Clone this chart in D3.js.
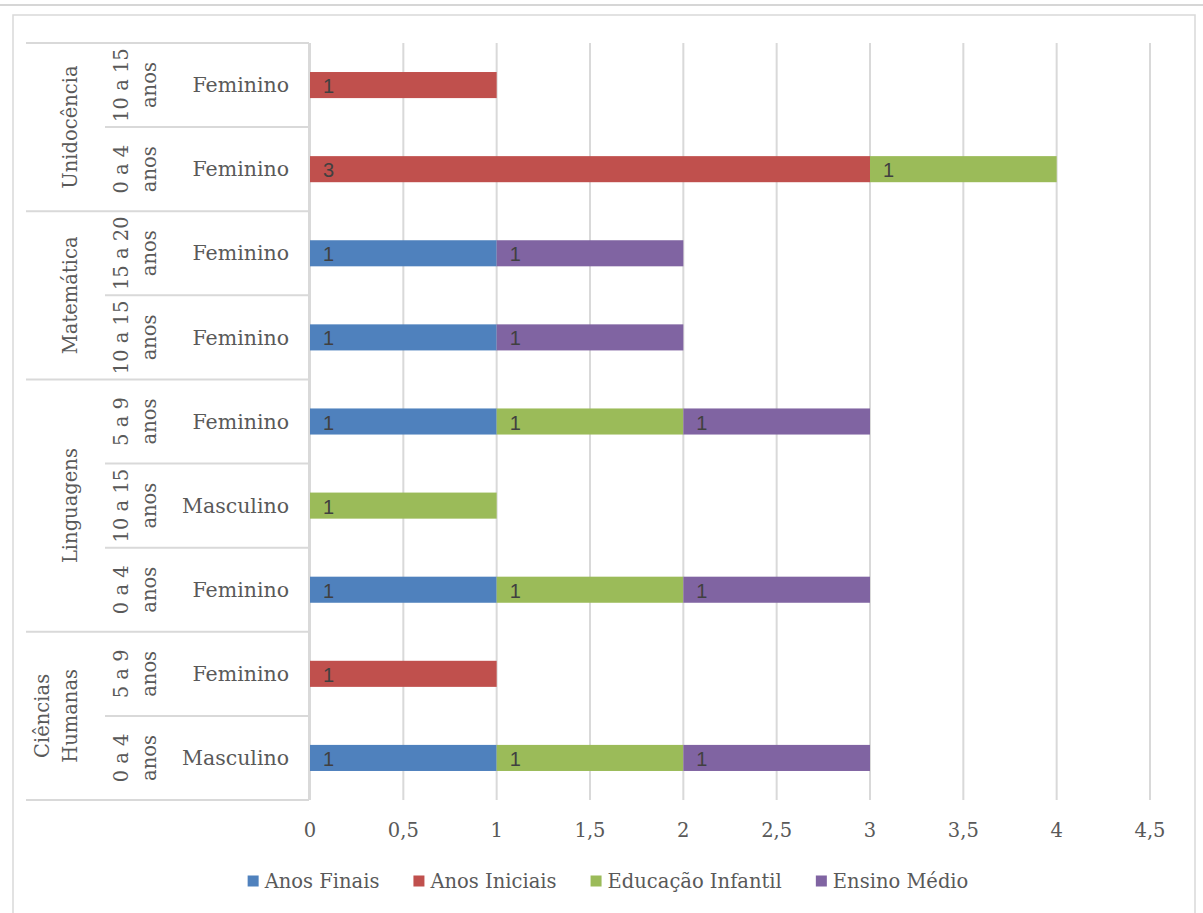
<!DOCTYPE html>
<html>
<head>
<meta charset="utf-8">
<script src="https://cdn.jsdelivr.net/npm/d3@7"></script>
<style>
  html, body { margin: 0; padding: 0; background: #ffffff; }
  svg { display: block; }
</style>
</head>
<body>
<script>
// ---- Data ----
const groups = ["Unidocência","Unidocência","Matemática","Matemática","Linguagens","Linguagens","Linguagens","Ciências Humanas","Ciências Humanas"];
const years = ["10 a 15 anos","0 a 4 anos","15 a 20 anos","10 a 15 anos","5 a 9 anos","10 a 15 anos","0 a 4 anos","5 a 9 anos","0 a 4 anos"];
const genders = ["Feminino","Feminino","Feminino","Feminino","Feminino","Masculino","Feminino","Feminino","Masculino"];
const seriesNames = ["Anos Finais","Anos Iniciais","Educação Infantil","Ensino Médio"];
const anosFinais       = [0,0,1,1,1,0,1,0,1];
const anosIniciais     = [1,3,0,0,0,0,0,1,0];
const educacaoInfantil = [0,1,0,0,1,1,1,0,1];
const ensinoMedio      = [0,0,1,1,1,0,1,0,1];
const xTicks = [0,0.5,1,1.5,2,2.5,3,3.5,4,4.5];
const colors = ["#4f81bd","#c0504d","#9bbb59","#8064a2"];

const W = 1203, H = 913;
const serif = "'DejaVu Serif', serif";
const sans = "'Liberation Sans', Arial, sans-serif";
const textColor = "#595959";
const lineColor = "#d9d9d9";
const fs = 19.5;

const svg = d3.select("body").append("svg").attr("width", W).attr("height", H);

// outer frame
svg.append("line").attr("x1",0).attr("x2",W).attr("y1",5).attr("y2",5)
  .attr("stroke","#c8c8c8").attr("stroke-width",1.5);
svg.append("rect").attr("x",13).attr("y",15).attr("width",1182).attr("height",H+20)
  .attr("fill","#fff").attr("stroke",lineColor).attr("stroke-width",1.5);

const rows = d3.range(genders.length);
const x = d3.scaleLinear().domain([0,4.5]).range([310,1150]);
const y = d3.scaleBand().domain(rows).range([43,800]).paddingInner(0.69).paddingOuter(0.345);
const plotTop = 43, plotBottom = 800;

// gridlines
svg.append("g").selectAll("line").data(xTicks).join("line")
  .attr("x1", d => x(d)).attr("x2", d => x(d))
  .attr("y1", plotTop).attr("y2", plotBottom)
  .attr("stroke", lineColor).attr("stroke-width", 2);

// stacked data
const table = rows.map(i => ({
  i,
  "Anos Finais": anosFinais[i],
  "Anos Iniciais": anosIniciais[i],
  "Educação Infantil": educacaoInfantil[i],
  "Ensino Médio": ensinoMedio[i]
}));
const stacked = d3.stack().keys(seriesNames)(table);

const gBars = svg.append("g");
stacked.forEach((s, k) => {
  const segs = s.filter(d => d[1] - d[0] > 0);
  gBars.selectAll(null).data(segs).join("rect")
    .attr("x", d => x(d[0])).attr("width", d => x(d[1]) - x(d[0]))
    .attr("y", d => y(d.data.i)).attr("height", y.bandwidth())
    .attr("fill", colors[k]);
  gBars.selectAll(null).data(segs).join("text")
    .attr("x", d => x(d[0]) + 13)
    .attr("y", d => y(d.data.i) + y.bandwidth()/2 + 1)
    .attr("dy", "0.35em")
    .attr("font-family", sans).attr("font-size", 20).attr("fill", "#404040")
    .text(d => d[1] - d[0]);
});

// x axis labels
svg.append("g").selectAll("text").data(xTicks).join("text")
  .attr("x", d => x(d)).attr("y", 830).attr("dy","0.35em")
  .attr("text-anchor","middle")
  .attr("font-family", serif).attr("font-size", fs).attr("fill", textColor)
  .text(d => String(d).replace(".", ","));

// multi-level category axis
const step = y.step();
const rowTop = i => plotTop + i * step;
const ga = svg.append("g").attr("stroke", lineColor).attr("stroke-width", 2);
ga.append("line").attr("x1",309).attr("x2",309).attr("y1",plotTop).attr("y2",plotBottom);
ga.append("line").attr("x1",26).attr("x2",309).attr("y1",plotTop).attr("y2",plotTop);
ga.append("line").attr("x1",26).attr("x2",309).attr("y1",plotBottom).attr("y2",plotBottom);
for (let i = 1; i < rows.length; i++) {
  const full = groups[i] !== groups[i-1];
  ga.append("line").attr("x1", full ? 26 : 105).attr("x2",309)
    .attr("y1", rowTop(i)).attr("y2", rowTop(i));
}

// gender labels
svg.append("g").selectAll("text").data(rows).join("text")
  .attr("x", 289).attr("y", i => y(i) + y.bandwidth()/2).attr("dy","0.35em")
  .attr("text-anchor","end")
  .attr("font-family", serif).attr("font-size", 20.5).attr("fill", textColor)
  .text(i => genders[i]);

function rotLabel(cy, lines, lastX, spacing) {
  const n = lines.length;
  lines.forEach((ln, j) => {
    const lx = lastX - (n - 1 - j) * spacing;
    svg.append("text")
      .attr("transform", `translate(${lx},${cy}) rotate(-90)`)
      .attr("text-anchor","middle").attr("dominant-baseline","central")
      .attr("font-family", serif).attr("font-size", fs).attr("fill", textColor)
      .text(ln);
  });
}

// year labels (split before "anos")
rows.forEach(i => {
  const s = years[i];
  const k = s.lastIndexOf(" ");
  rotLabel(y(i) + y.bandwidth()/2, [s.slice(0,k), s.slice(k+1)], 149, 28);
});

// group labels
const groupNames = Array.from(new Set(groups));
groupNames.forEach(gname => {
  const idx = rows.filter(i => groups[i] === gname);
  const cy = (rowTop(d3.min(idx)) + rowTop(d3.max(idx) + 1)) / 2;
  rotLabel(cy, gname.split(" "), 70, 28);
});

// legend
const leg = svg.append("g");
const items = seriesNames.map((name, k) => {
  const g = leg.append("g");
  g.append("rect").attr("width", 11).attr("height", 11).attr("y", -5.5).attr("fill", colors[k]);
  const t = g.append("text").attr("x", 17).attr("dy","0.35em")
    .attr("font-family", serif).attr("font-size", fs).attr("fill", textColor).text(name);
  return {g, w: 17 + t.node().getComputedTextLength()};
});
const gap = 34;
const total = d3.sum(items, d => d.w) + gap * (items.length - 1);
let cx = 608 - total / 2;
items.forEach(it => { it.g.attr("transform", `translate(${cx},881)`); cx += it.w + gap; });
</script>
</body>
</html>
